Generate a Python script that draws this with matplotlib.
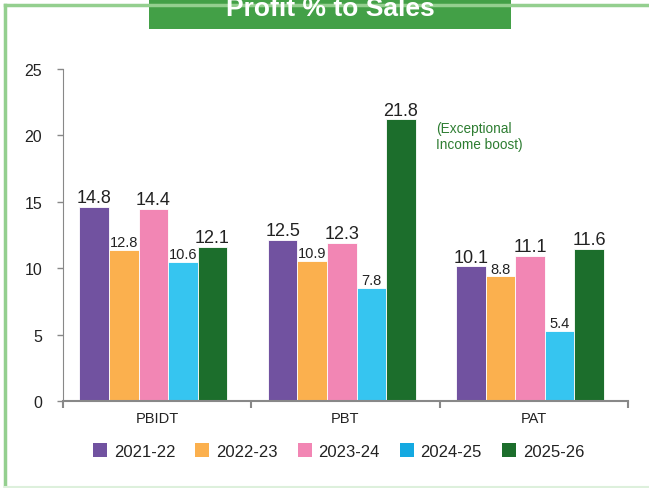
import numpy as np
import matplotlib.pyplot as plt
from matplotlib.patches import Rectangle, Patch
from matplotlib.lines import Line2D

plt.rcParams['font.family'] = ['Liberation Sans', 'DejaVu Sans']

# Dados
categorias = ["PBIDT", "PBT", "PAT"]
anos = ["2021-22", "2022-23", "2023-24", "2024-25", "2025-26"]

# altura das barras (como desenhadas)
alturas = {
    "2021-22": [14.6, 12.15, 10.15],
    "2022-23": [11.4, 10.55, 9.4],
    "2023-24": [14.45, 11.9, 10.95],
    "2024-25": [10.5, 8.5, 5.3],
    "2025-26": [11.6, 21.2, 11.45],
}
# rotulos escritos sobre as barras
rotulos = {
    "2021-22": ["14.8", "12.5", "10.1"],
    "2022-23": ["12.8", "10.9", "8.8"],
    "2023-24": ["14.4", "12.3", "11.1"],
    "2024-25": ["10.6", "7.8", "5.4"],
    "2025-26": ["12.1", "21.8", "11.6"],
}
cores = ["#7152A0", "#FBB04E", "#F286B4", "#36C5F0", "#1C6E2C"]
cores_legenda = ["#7152A0", "#FBB04E", "#F286B4", "#14A9E1", "#1C6E2C"]
rotulo_grande = {"2021-22": True, "2022-23": False, "2023-24": True,
                 "2024-25": False, "2025-26": True}
titulo = "Profit % to Sales"

W, H = 649, 489
fig = plt.figure(figsize=(W / 100, H / 100), dpi=100)

# moldura verde
fig.add_artist(Line2D([5 / W, 5 / W], [1 - 488 / H, 1 - 6 / H], transform=fig.transFigure,
                      color="#94CF8F", lw=2.5))
fig.add_artist(Line2D([5 / W, 1], [1 - 6 / H, 1 - 6 / H], transform=fig.transFigure,
                      color="#94CF8F", lw=2.5))
fig.add_artist(Line2D([5 / W, 1], [1 - 488 / H, 1 - 488 / H], transform=fig.transFigure,
                      color="#DDF0DC", lw=1.5))

# faixa do titulo (o texto fica cortado em cima, como no original)
fig.add_artist(Rectangle((149 / W, 1 - 29.5 / H), 362 / W, 29.5 / H, transform=fig.transFigure,
                         facecolor="#43A047", edgecolor="none"))
fig.text(330 / W, 1 - 15.7 / H, titulo, color="white", fontsize=19,
         fontweight="bold", ha="center", va="baseline")

ax = fig.add_axes([63 / W, 1 - 402 / H, (628 - 63) / W, (402 - 70) / H])

x = np.arange(len(categorias))
largura = 0.157
for i, ano in enumerate(anos):
    pos = x + (i - 2) * largura - 0.02
    ax.bar(pos, alturas[ano], width=largura, color=cores[i], edgecolor="white", linewidth=0.6)
    for p, h, r in zip(pos, alturas[ano], rotulos[ano]):
        fs = 13 if rotulo_grande[ano] else 10.5
        ax.text(p, h + 0.05, r, ha="center", va="bottom", fontsize=fs, color="#222222")

ax.text(1 + 2.5 * largura + 0.09, 21.05, "(Exceptional\nIncome boost)",
        color="#2E7D32", fontsize=9.8, ha="left", va="top", linespacing=1.1)

ax.set_xlim(-0.5, 2.5)
ax.set_ylim(0, 25)
ax.set_yticks([0, 5, 10, 15, 20, 25])
ax.set_xticks([-0.5, 0.5, 1.5, 2.5])
ax.set_xticklabels([])
ax.set_xticks(x, minor=True)
ax.set_xticklabels(categorias, minor=True)
ax.tick_params(axis="x", which="minor", length=0, pad=7, labelsize=10.5, labelcolor="#222222")
ax.tick_params(axis="x", which="major", length=5, width=1.5, color="#888888")
ax.tick_params(axis="y", length=4, width=1, color="#888888", labelsize=11.5,
               labelcolor="#222222", pad=11)
for s in ["top", "right"]:
    ax.spines[s].set_visible(False)
for s in ["left", "bottom"]:
    ax.spines[s].set_color("#888888")
ax.spines["bottom"].set_linewidth(1.5)

handles = [Patch(facecolor=c, label=a) for c, a in zip(cores_legenda, anos)]
fig.legend(handles=handles, loc="center", bbox_to_anchor=(338.5 / W, 1 - 452 / H), ncol=5,
           frameon=False, fontsize=12, handlelength=0.85, handleheight=0.85,
           handletextpad=0.4, columnspacing=1.2, labelcolor="#222222")

fig.savefig("out.png", dpi=100)
